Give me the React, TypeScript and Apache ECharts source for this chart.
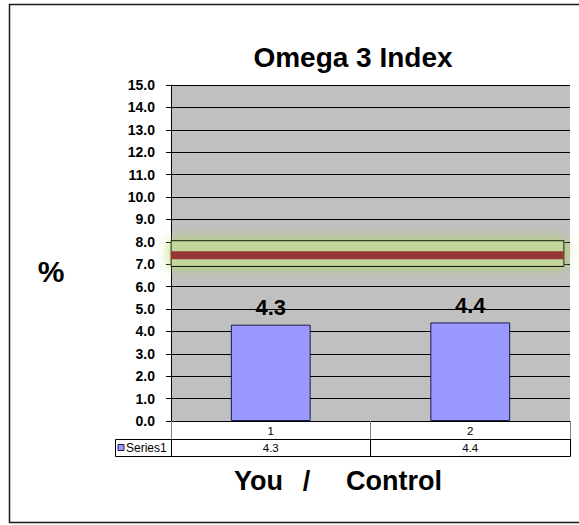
import React, { useEffect, useRef } from "react";
import * as echarts from "echarts";

const categories = ["1", "2"];
const seriesName = "Series1";
const values = [4.3, 4.4];
const yMin = 0;
const yMax = 15;
const yInterval = 1;
const targetLow = 6.9;
const targetHigh = 8.05;
const targetLine = 7.4;
const targetSpan = [0, 0.985];
const title = "Omega 3 Index";
const yName = "%";
const xNameParts = ["You", "/", "Control"];

const FONT = "Liberation Sans, Arial, sans-serif";

export default function App() {
  const ref = useRef<HTMLDivElement>(null);
  useEffect(() => {
    document.body.style.margin = "0";
    const chart = echarts.init(ref.current!, null, { renderer: "svg" });
    const gridLeft = 171;
    const gridRight = 570;
    const gridBottomY = 421;
    const option: any = {
      animation: false,
      backgroundColor: "#ffffff",
      textStyle: { fontFamily: FONT },
      grid: { left: gridLeft, right: 579 - gridRight, top: 85, bottom: 525 - gridBottomY, show: true, backgroundColor: "#c0c0c0", borderWidth: 0 },
      xAxis: [
        {
          type: "category",
          data: categories,
          position: "bottom",
          axisLine: { show: true, lineStyle: { color: "#000", width: 1 } },
          axisTick: { show: true, length: 18, alignWithLabel: false, interval: 0, lineStyle: { color: "#808080" } },
          axisLabel: { margin: 4, fontSize: 11.5, color: "#000", fontFamily: FONT },
          splitLine: { show: false },
        },
        {
          type: "category",
          data: values.map((v) => v.toFixed(1)),
          position: "bottom",
          offset: 18,
          axisLine: { show: true, lineStyle: { color: "#000", width: 1 } },
          axisTick: { show: true, length: 17, alignWithLabel: false, interval: 0, lineStyle: { color: "#000" } },
          axisLabel: { margin: 3, fontSize: 11.5, color: "#000", fontFamily: FONT },
          splitLine: { show: false },
        },
        { type: "value", min: 0, max: 1, show: false },
      ],
      yAxis: {
        type: "value",
        min: yMin,
        max: yMax,
        interval: yInterval,
        axisLine: { show: true, lineStyle: { color: "#000", width: 1 } },
        axisTick: { show: true, length: 5, inside: false, lineStyle: { color: "#000" } },
        axisLabel: { margin: 16, fontSize: 14, fontWeight: "bold", color: "#000", fontFamily: FONT, formatter: (v: number) => v.toFixed(1) },
        splitLine: { show: true, lineStyle: { color: "#000", width: 1 } },
      },
      series: [
        {
          name: seriesName,
          type: "bar",
          xAxisIndex: 0,
          data: values,
          barWidth: "40%",
          itemStyle: { color: "#9999ff", borderColor: "#1a1a4d", borderWidth: 1 },
          label: { show: true, position: "top", distance: 6, fontSize: 22, fontWeight: "bold", color: "#000", fontFamily: FONT, formatter: (p: any) => Number(p.value).toFixed(1) },
          z: 3,
        },
        {
          name: "target",
          type: "line",
          xAxisIndex: 2,
          data: [
            [targetSpan[0], targetLine],
            [targetSpan[1], targetLine],
          ],
          symbol: "none",
          lineStyle: { color: "#953735", width: 8 },
          z: 4,
          markArea: {
            silent: true,
            itemStyle: { color: "#c3d69b", borderColor: "#000", borderWidth: 1, shadowBlur: 14, shadowColor: "rgba(175,215,95,1)" },
            data: [[{ xAxis: targetSpan[0], yAxis: targetHigh }, { xAxis: targetSpan[1], yAxis: targetLow }]],
          },
        },
      ],
      graphic: [
        { type: "rect", shape: { x: 9.5, y: 4.5, width: 620, height: 518 }, style: { fill: "none", stroke: "#1a1a1a", lineWidth: 1.5 }, silent: true, z: -10 },
        { type: "text", x: 353, y: 57, style: { text: title, font: `bold 28px ${FONT}`, fill: "#000", textAlign: "center", textVerticalAlign: "middle" } },
        { type: "text", x: 51, y: 271, style: { text: yName, font: `bold 30px ${FONT}`, fill: "#000", textAlign: "center", textVerticalAlign: "middle" } },
        { type: "text", x: 258.5, y: 481, style: { text: xNameParts[0], font: `bold 27px ${FONT}`, fill: "#000", textAlign: "center", textVerticalAlign: "middle" } },
        { type: "text", x: 306.5, y: 481, style: { text: xNameParts[1], font: `bold 27px ${FONT}`, fill: "#000", textAlign: "center", textVerticalAlign: "middle" } },
        { type: "text", x: 394, y: 481, style: { text: xNameParts[2], font: `bold 27px ${FONT}`, fill: "#000", textAlign: "center", textVerticalAlign: "middle" } },
        { type: "rect", shape: { x: 115.5, y: 439.5, width: 455, height: 17 }, style: { fill: "none", stroke: "#000", lineWidth: 1 }, silent: true },
        { type: "rect", shape: { x: 118, y: 444.5, width: 6, height: 6 }, style: { fill: "#9999ff", stroke: "#1a1a4d", lineWidth: 1 } },
        { type: "text", x: 126, y: 448, style: { text: seriesName, font: `12px ${FONT}`, fill: "#000", textAlign: "left", textVerticalAlign: "middle" } },
      ],
    };
    chart.setOption(option);
    return () => chart.dispose();
  }, []);
  return <div ref={ref} style={{ width: 579, height: 525 }} />;
}
